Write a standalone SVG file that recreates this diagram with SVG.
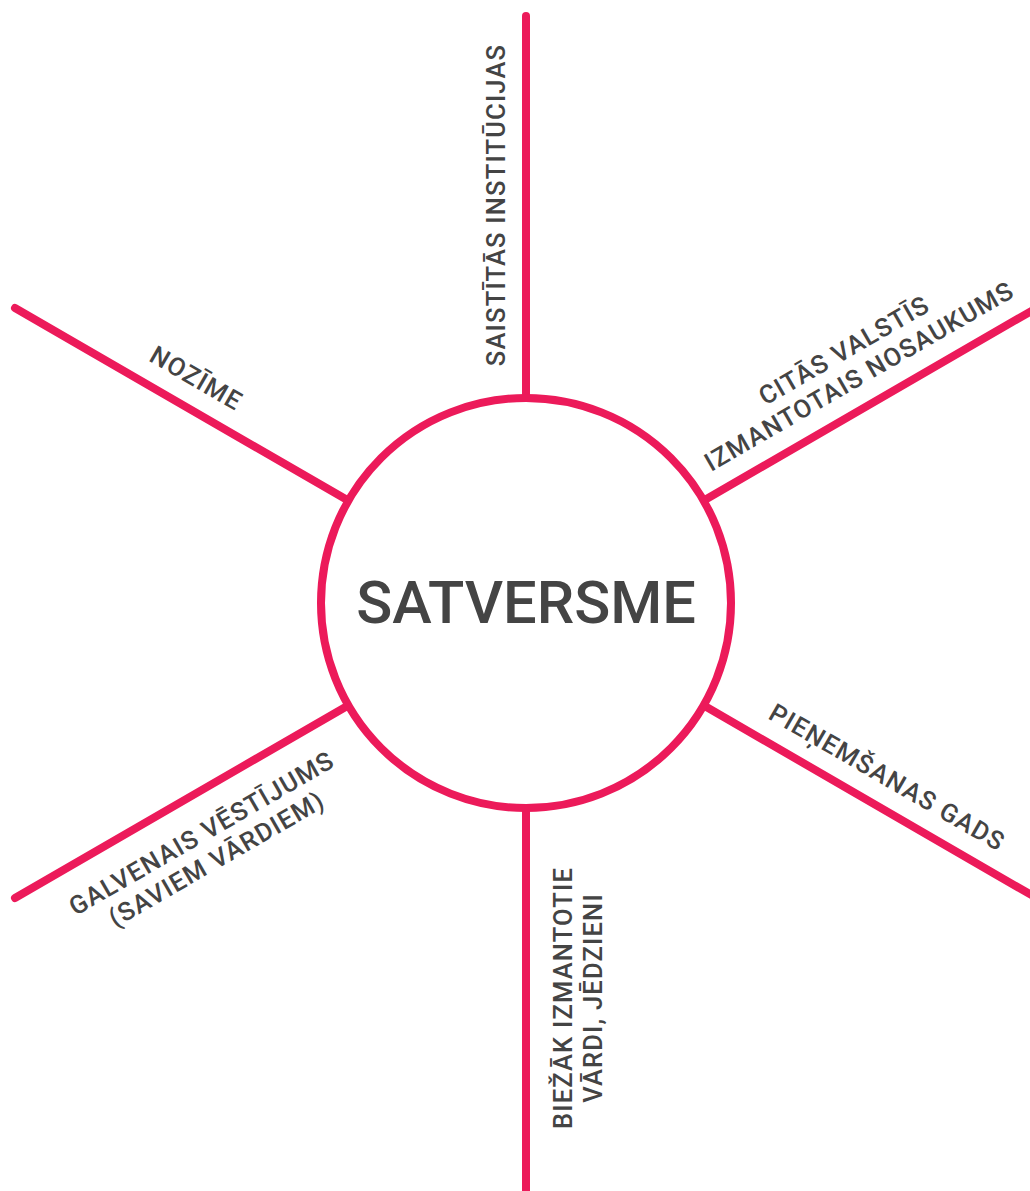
<svg xmlns="http://www.w3.org/2000/svg" width="1030" height="1191" viewBox="0 0 1030 1191">
<style>
.ln{stroke:#EC1A5A;stroke-width:8;stroke-linecap:round;fill:none}
.lbl{font-family:Roboto,"Liberation Sans",sans-serif;font-weight:500;font-size:25.5px;letter-spacing:1.2px;fill:#444;text-anchor:middle}
.ttl{font-family:Roboto,"Liberation Sans",sans-serif;font-weight:500;font-size:59.5px;fill:#444;text-anchor:middle}
</style>
<rect width="1030" height="1191" fill="#fff"/>
<g id="connectors">
<line class="ln" x1="526" y1="16" x2="526" y2="398"/>
<line class="ln" x1="526" y1="808" x2="526" y2="1195"/>
<line class="ln" x1="15" y1="308" x2="349" y2="501"/>
<line class="ln" x1="703" y1="501" x2="1040" y2="306"/>
<line class="ln" x1="15" y1="898" x2="349" y2="705"/>
<line class="ln" x1="703" y1="705" x2="1040" y2="900"/>
</g>
<g id="center">
<circle cx="526" cy="603" r="205" fill="#fff" stroke="#EC1A5A" stroke-width="8"/>
<text class="ttl" x="526" y="623">SATVERSME</text>
</g>
<g id="n-top" transform="translate(526,205) rotate(-90)">
<text class="lbl" x="0" y="-21">SAISTĪTĀS INSTITŪCIJAS</text>
</g>
<g id="n-upper-left" transform="translate(181.3,404) rotate(30)">
<text class="lbl" x="0" y="-21">NOZĪME</text>
</g>
<g id="n-upper-right" transform="translate(874,402) rotate(-30)">
<text class="lbl" x="0" y="-51">CITĀS VALSTĪS</text>
<text class="lbl" x="0" y="-21">IZMANTOTAIS NOSAUKUMS</text>
</g>
<g id="n-lower-right" transform="translate(872.4,803) rotate(30)">
<text class="lbl" x="0" y="-21">PIEŅEMŠANAS GADS</text>
</g>
<g id="n-lower-left" transform="translate(183,801) rotate(-30)">
<text class="lbl" x="0" y="46">GALVENAIS VĒSTĪJUMS</text>
<text class="lbl" x="0" y="76">(SAVIEM VĀRDIEM)</text>
</g>
<g id="n-bottom" transform="translate(526,998) rotate(-90)">
<text class="lbl" x="0" y="46">BIEŽĀK IZMANTOTIE</text>
<text class="lbl" x="0" y="76">VĀRDI, JĒDZIENI</text>
</g>
</svg>
